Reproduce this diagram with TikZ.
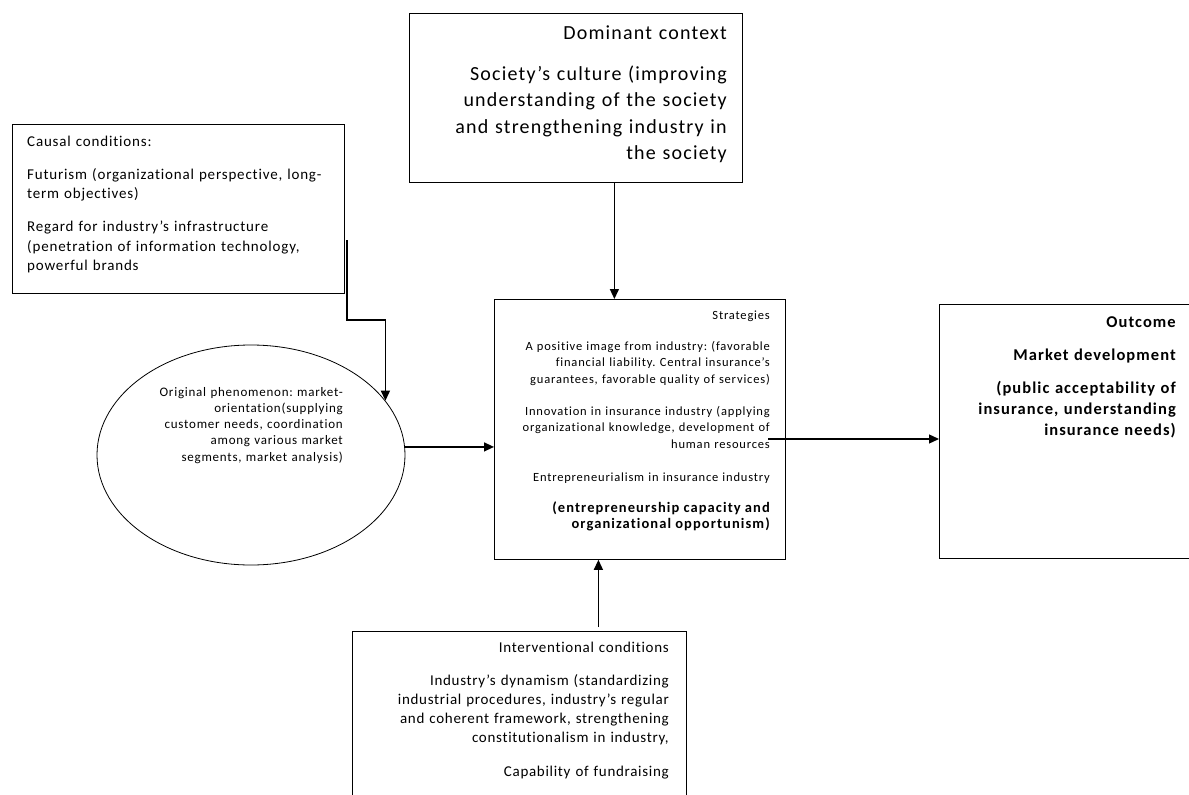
\documentclass[tikz,border=0pt]{standalone}
\usepackage{fontspec}
\setmainfont{Carlito}[Ligatures=NoCommon]
\usetikzlibrary{arrows.meta,positioning,shapes.geometric}
\frenchspacing

\begin{document}
\begin{tikzpicture}[x=1pt, y=-1pt, >={Triangle[length=10pt,width=9pt]},
    frame/.style={draw, line width=0.8pt, inner sep=0pt, anchor=north west},
    txt/.style={inner sep=0pt, anchor=base east, align=right},
    link/.style={->, line width=1.3pt}]
    \useasboundingbox (0,0) rectangle (1189,795);

    % Causal conditions
    \node [frame, minimum width=332, minimum height=169] (causal) at (12,124) {};
    \node [txt, anchor=base west, align=left, text width=330,
        font=\fontsize{15}{19.3}\selectfont\addfontfeatures{LetterSpace=5.5}] (causal-txt) at (27,146)
        {Causal conditions:\\[14pt]
         Futurism (organizational perspective, long-\\term objectives)\\[14pt]
         Regard for industry’s infrastructure\\(penetration of information technology,\\powerful brands};

    % Dominant context
    \node [frame, minimum width=333, minimum height=169] (context) at (409,13) {};
    \node [txt, text width=320, font=\fontsize{20}{26.5}\selectfont\addfontfeatures{LetterSpace=6}] (context-txt) at (727,39)
        {Dominant context\\[14.5pt]
         Society’s culture (improving\\understanding of the society\\and strengthening industry in\\the society};

    % Original phenomenon
    \node [draw, ellipse, line width=0.8pt, inner sep=0pt,
        minimum width=308, minimum height=220] (phenom) at (251,455) {};
    \node [txt, text width=260, font=\fontsize{13}{16.3}\selectfont\addfontfeatures{LetterSpace=5.9}] (phenom-txt) at (343,396)
        {Original phenomenon: market-\\orientation(supplying\\customer needs, coordination\\among various market\\segments, market analysis)};

    % Strategies
    \node [frame, minimum width=291, minimum height=260] (strategy) at (494,299) {};
    \node [txt, text width=285, font=\fontsize{12.5}{16.5}\selectfont\addfontfeatures{LetterSpace=6.5}] (strategy-txt) at (770,319)
        {Strategies\\[14.5pt]
         A positive image from industry: (favorable\\financial liability. Central insurance’s\\guarantees, favorable quality of services)\\[15.5pt]
         Innovation in insurance industry (applying\\organizational knowledge, development of\\human resources\\[16.5pt]
         Entrepreneurialism in insurance industry\\[15pt]
         \fontsize{14.5}{16}\selectfont\bfseries\addfontfeatures{LetterSpace=7.5}(entrepreneurship capacity and\\organizational opportunism)};

    % Outcome
    \node [frame, minimum width=260, minimum height=254] (outcome) at (939,304) {};
    \node [txt, text width=240, font=\fontsize{16.5}{21}\selectfont\bfseries\addfontfeatures{LetterSpace=6.5}] (outcome-txt) at (1176,327)
        {Outcome\\[12pt]
         Market development\\[12pt]
         (public acceptability of\\insurance, understanding\\insurance needs)};

    % Interventional conditions
    \node [frame, minimum width=334, minimum height=200] (interv) at (352,631) {};
    \node [txt, text width=320, font=\fontsize{15}{19.3}\selectfont\addfontfeatures{LetterSpace=4.7}] (interv-txt) at (669,652)
        {Interventional conditions\\[13.7pt]
         Industry’s dynamism (standardizing\\industrial procedures, industry’s regular\\and coherent framework, strengthening\\constitutionalism in industry,\\[14.7pt]
         Capability of fundraising};

    % Connectors
    \coordinate (causal-tail) at (347,240);
    \coordinate (strategy-out) at (768,439);
    \draw [link] (causal-tail) -- ++(0,80) -| (phenom.22);
    \draw [link] ([xshift=38.5pt]context.south) -- ([xshift=38.5pt]context.south |- strategy.north);
    \draw [link] (phenom.3) -- (phenom.3 -| strategy.west);
    \draw [link] (strategy-out) -- (strategy-out -| outcome.west);
    \draw [link] ([xshift=79pt,yshift=4pt]interv.north) -- ([xshift=79pt]interv.north |- strategy.south);
\end{tikzpicture}
\end{document}
